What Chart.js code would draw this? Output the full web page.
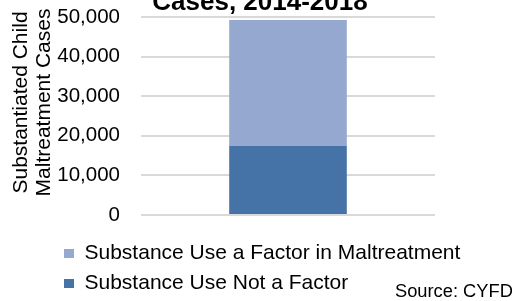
<!DOCTYPE html>
<html lang="en">

<head>
  <meta charset="UTF-8">
  <title>Substantiated Child Maltreatment Cases</title>
  <style>
    html, body { margin: 0; padding: 0; background: #fff; }
    canvas { display: block; }
  </style>
</head>

<body>
  <canvas id="casesChart" width="516" height="301"></canvas>

  <script src="https://cdn.jsdelivr.net/npm/chart.js"></script>
  <script>
    // data
    const categories = ['2014-2018'];
    const notFactor = [17500];
    const factor = [31750];
    const seriesNames = ['Substance Use Not a Factor', 'Substance Use a Factor in Maltreatment'];
    const yTicks = [0, 10000, 20000, 30000, 40000, 50000];
    const titleText = 'Cases, 2014-2018';
    const axisTitle = ['Substantiated Child', 'Maltreatment Cases'];
    const sourceText = 'Source: CYFD';

    const font = '"Liberation Sans", Arial, sans-serif';

    // extra texts: cropped title, two-line axis title, source note
    const extraText = {
      id: 'extraText',
      afterDraw(chart) {
        const ctx = chart.ctx;
        ctx.save();
        ctx.fillStyle = '#000';

        ctx.font = `bold 26px ${font}`;
        ctx.textAlign = 'center';
        ctx.textBaseline = 'alphabetic';
        ctx.fillText(titleText, 260, 9.5);

        ctx.font = `18.3px ${font}`;
        ctx.textAlign = 'left';
        ctx.fillText(sourceText, 395, 296.5);

        ctx.font = `21px ${font}`;
        ctx.textAlign = 'center';
        ctx.translate(0, 102.5);
        ctx.rotate(-Math.PI / 2);
        ctx.fillText(axisTitle[0], 0, 26.5);
        ctx.fillText(axisTitle[1], 0, 50);
        ctx.restore();
      }
    };

    // keep the layout from adding room for the tick labels
    const noPad = (scale) => {
      scale.paddingTop = 0;
      scale.paddingBottom = 0;
    };

    const ctx = document.getElementById('casesChart').getContext('2d');
    new Chart(ctx, {
      type: 'bar',
      data: {
        labels: categories,
        datasets: [
          {
            label: seriesNames[0],
            data: notFactor,
            backgroundColor: '#4573a7',
          },
          {
            label: seriesNames[1],
            data: factor,
            backgroundColor: '#95a8cf',
          },
        ],
      },
      options: {
        responsive: false,
        animation: false,
        locale: 'en-US',
        layout: {
          padding: { left: 55, right: 0, top: 17, bottom: -3 },
        },
        datasets: {
          bar: { barPercentage: 1, categoryPercentage: 0.4 },
        },
        scales: {
          x: {
            stacked: true,
            ticks: { display: false },
            grid: { display: false },
            border: { display: false },
            afterFit: (scale) => { scale.height = 19; },
          },
          y: {
            stacked: true,
            min: 0,
            max: 50000,
            afterBuildTicks: (scale) => { scale.ticks = yTicks.map(v => ({ value: v })); },
            ticks: {
              padding: 21,
              color: '#000',
              font: { family: font, size: 20.5 },
            },
            grid: { color: '#d9d9d9', lineWidth: 2, drawTicks: false },
            border: { display: false },
            afterFit: (scale) => { scale.width = 86; noPad(scale); },
          },
          // empty right axis, only to leave the blank strip right of the plot
          yRight: {
            type: 'linear',
            axis: 'y',
            position: 'right',
            ticks: { display: false },
            grid: { display: false },
            border: { display: false },
            afterFit: (scale) => { scale.width = 81; noPad(scale); },
          },
        },
        plugins: {
          legend: {
            position: 'bottom',
            align: 'start',
            reverse: true,
            labels: {
              boxWidth: 10,
              boxHeight: 9,
              padding: 9,
              color: '#000',
              font: { family: font, size: 21 },
            },
          },
          tooltip: { enabled: false },
        },
      },
      plugins: [extraText],
    });
  </script>
</body>

</html>
